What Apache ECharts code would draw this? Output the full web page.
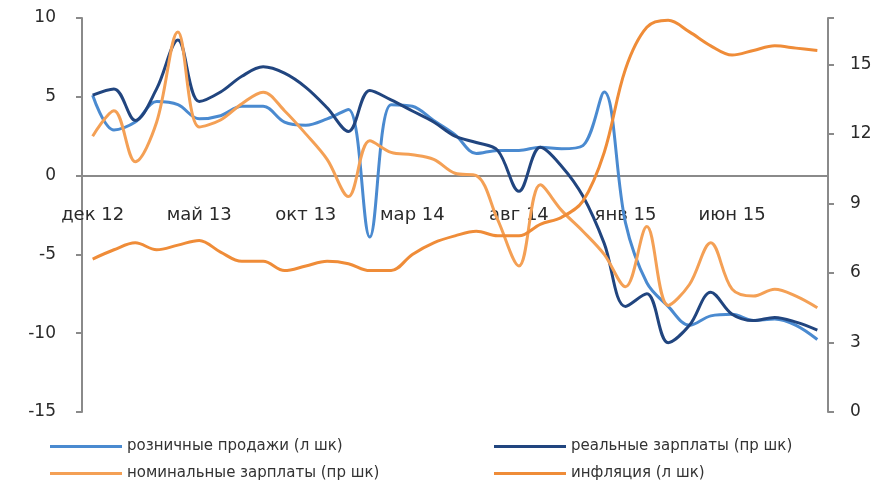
<!DOCTYPE html>
<html>
<head>
<meta charset="utf-8">
<script src="https://cdn.jsdelivr.net/npm/echarts@6/dist/echarts.min.js"></script>
<style>
  html, body { margin: 0; padding: 0; background: #fff; }
  #main { width: 886px; height: 489px; }
</style>
</head>
<body>
<div id="main"></div>
<script>
// месяцы: дек 12 - окт 15
var months = ['дек 12', 'янв 13', 'фев 13', 'мар 13', 'апр 13', 'май 13', 'июн 13', 'июл 13', 'авг 13', 'сен 13',
  'окт 13', 'ноя 13', 'дек 13', 'янв 14', 'фев 14', 'мар 14', 'апр 14', 'май 14', 'июн 14', 'июл 14',
  'авг 14', 'сен 14', 'окт 14', 'ноя 14', 'дек 14', 'янв 15', 'фев 15', 'мар 15', 'апр 15', 'май 15',
  'июн 15', 'июл 15', 'авг 15', 'сен 15', 'окт 15'];

// левая шкала
var retail = [5.1, 2.9, 3.4, 4.7, 4.5, 3.6, 3.8, 4.4, 4.4, 3.4,
  3.2, 3.6, 4.2, -3.9, 4.5, 4.4, 3.5, 2.6, 1.4, 1.6,
  1.6, 1.8, 1.7, 1.9, 5.3, -3.0, -6.8, -8.3, -9.5, -8.9,
  -8.8, -9.2, -9.1, -9.5, -10.4];
var realWages = [5.1, 5.5, 3.5, 5.5, 8.6, 4.7, 5.3, 6.3, 6.9, 6.5,
  5.6, 4.3, 2.8, 5.4, 4.8, 4.1, 3.4, 2.5, 2.1, 1.6,
  -1.0, 1.8, 0.6, -1.3, -4.3, -8.3, -7.5, -10.6, -9.5, -7.4,
  -8.8, -9.2, -9.0, -9.3, -9.8];

// правая шкала
var nominalWages = [11.9, 13.0, 10.8, 12.5, 16.4, 12.3, 12.6, 13.3, 13.8, 13.0,
  12.0, 10.9, 9.3, 11.7, 11.2, 11.1, 10.9, 10.3, 10.2, 8.3,
  6.3, 9.8, 8.7, 7.8, 6.8, 5.4, 8.0, 4.6, 5.5, 7.3,
  5.3, 5.0, 5.3, 5.0, 4.5];
var inflation = [6.6, 7.0, 7.3, 7.0, 7.2, 7.4, 6.9, 6.5, 6.5, 6.1,
  6.3, 6.5, 6.4, 6.1, 6.1, 6.8, 7.3, 7.6, 7.8, 7.6,
  7.6, 8.1, 8.4, 9.1, 11.2, 14.8, 16.6, 16.9, 16.4, 15.8,
  15.4, 15.6, 15.8, 15.7, 15.6];

var names = ['розничные продажи (л шк)', 'реальные зарплаты (пр шк)', 'номинальные зарплаты (пр шк)', 'инфляция (л шк)'];

var leftMin = -15, leftMax = 10;

document.addEventListener('DOMContentLoaded', function () {
  var myChart = echarts.init(document.getElementById('main'));

  var axisColor = '#8a8a8a';
  var gridTop = 18, gridBottom = 77;
  var gridH = 489 - gridTop - gridBottom;
  // ось X проходит по нулю левой шкалы
  var zeroOffset = -gridH * (0 - leftMin) / (leftMax - leftMin);

  var legendText = { color: '#333', fontSize: 15, fontFamily: 'DejaVu Sans' };

  var option = {
    animation: false,
    grid: { left: 82, right: 58, top: gridTop, bottom: gridBottom },
    legend: [{
      data: [names[0], names[2]],
      orient: 'vertical',
      left: 50, top: 439, padding: 0,
      itemWidth: 72, itemHeight: 3, itemGap: 12,
      icon: 'rect',
      textStyle: legendText
    }, {
      data: [names[1], names[3]],
      orient: 'vertical',
      left: 494, top: 439, padding: 0,
      itemWidth: 72, itemHeight: 3, itemGap: 12,
      icon: 'rect',
      textStyle: legendText
    }],
    xAxis: {
      type: 'category',
      data: months,
      boundaryGap: true,
      offset: zeroOffset,
      axisLine: { onZero: false, lineStyle: { color: axisColor, width: 2 } },
      axisTick: { interval: 4, length: 6, lineStyle: { color: axisColor, width: 2 } },
      axisLabel: { interval: 4, margin: 31, color: '#2a2a2a', fontSize: 18, fontFamily: 'DejaVu Sans' },
      splitLine: { show: false }
    },
    yAxis: [{
      type: 'value',
      min: leftMin, max: leftMax, interval: 5,
      axisLine: { show: true, lineStyle: { color: axisColor, width: 2 } },
      axisTick: { show: true, length: 6, lineStyle: { color: axisColor, width: 2 } },
      axisLabel: { margin: 26, color: '#2a2a2a', fontSize: 17, fontFamily: 'DejaVu Sans' },
      splitLine: { show: false }
    }, {
      type: 'value',
      min: 0, max: 17, interval: 3,
      position: 'right',
      axisLine: { show: true, lineStyle: { color: axisColor, width: 2 } },
      axisTick: { show: true, length: 6, lineStyle: { color: axisColor, width: 2 } },
      axisLabel: {
        margin: 22, color: '#2a2a2a', fontSize: 17, fontFamily: 'DejaVu Sans',
        formatter: function (v) { return v % 3 === 0 ? v : ''; }
      },
      splitLine: { show: false }
    }],
    series: [{
      name: names[0],
      type: 'line',
      yAxisIndex: 0,
      data: retail,
      smooth: 0.35,
      symbol: 'none',
      itemStyle: { color: '#4a8ad0' },
      lineStyle: { color: '#4a8ad0', width: 3 }
    }, {
      name: names[1],
      type: 'line',
      yAxisIndex: 0,
      data: realWages,
      smooth: 0.35,
      symbol: 'none',
      itemStyle: { color: '#21457f' },
      lineStyle: { color: '#21457f', width: 3 }
    }, {
      name: names[2],
      type: 'line',
      yAxisIndex: 1,
      data: nominalWages,
      smooth: 0.35,
      symbol: 'none',
      itemStyle: { color: '#f4a055' },
      lineStyle: { color: '#f4a055', width: 3 }
    }, {
      name: names[3],
      type: 'line',
      yAxisIndex: 1,
      data: inflation,
      smooth: 0.35,
      symbol: 'none',
      itemStyle: { color: '#ef8c38' },
      lineStyle: { color: '#ef8c38', width: 3 }
    }]
  };

  myChart.setOption(option);
});
</script>
</body>
</html>
